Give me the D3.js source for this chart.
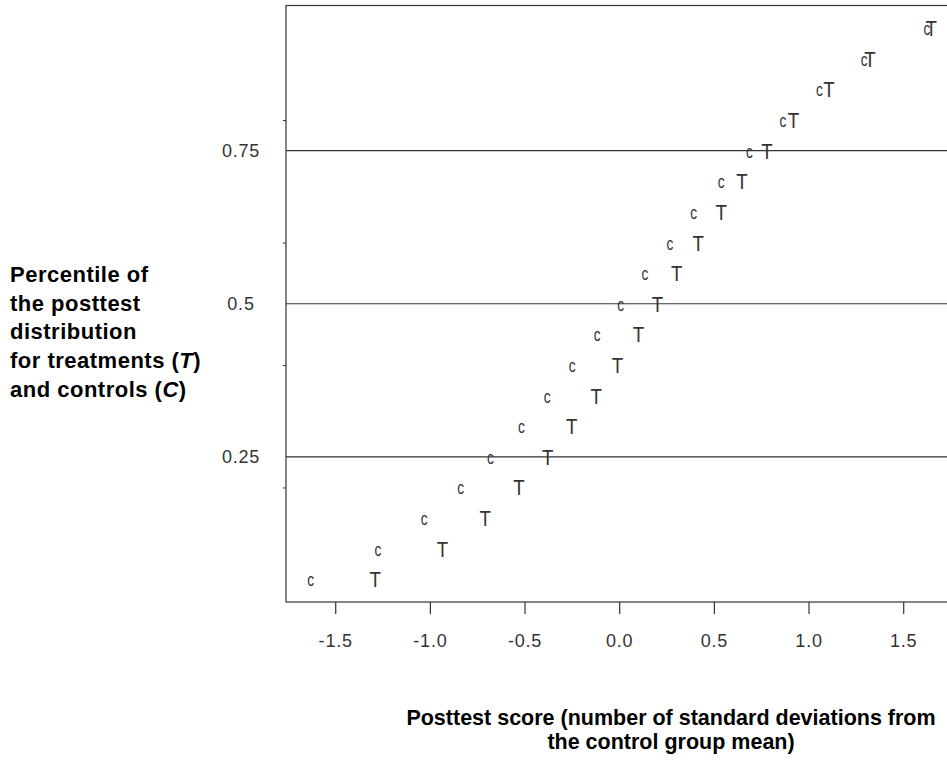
<!DOCTYPE html>
<html>
<head>
<meta charset="utf-8">
<script src="https://cdn.jsdelivr.net/npm/d3@7"></script>
<style>
  body { margin: 0; background: #fff; }
  svg { display: block; }
</style>
</head>
<body>
<div id="chart"></div>
<script>
"use strict";

// percentiles of the posttest distribution
const percentiles = [0.05, 0.10, 0.15, 0.20, 0.25, 0.30, 0.35, 0.40, 0.45, 0.50,
                     0.55, 0.60, 0.65, 0.70, 0.75, 0.80, 0.85, 0.90, 0.95];
// posttest scores (sd from control mean) at each percentile
const controlScores = [-1.63, -1.275, -1.03, -0.838, -0.68, -0.517, -0.38, -0.249, -0.117, 0.008,
                       0.136, 0.268, 0.393, 0.539, 0.688, 0.865, 1.058, 1.294, 1.625];
const treatmentScores = [-1.289, -0.933, -0.708, -0.53, -0.378, -0.251, -0.121, -0.009, 0.101, 0.202,
                         0.304, 0.417, 0.539, 0.648, 0.78, 0.921, 1.108, 1.325, 1.648];

const xTicks = [-1.5, -1.0, -0.5, 0.0, 0.5, 1.0, 1.5];
const yLabelTicks = [0.25, 0.5, 0.75];
const yMinorTicks = [0.2, 0.4, 0.6, 0.8];

const yTitle = ["Percentile of", "the posttest", "distribution",
                ["for treatments (", "T", ")"], ["and controls (", "C", ")"]];
const xTitle = ["Posttest score (number of standard deviations from", "the control group mean)"];

const W = 947, H = 761;
const frame = { left: 286, right: 960, top: 5.5, bottom: 602 };
const ink = "#333";

const svg = d3.select("#chart")
  .append("svg")
  .attr("width", W)
  .attr("height", H)
  .attr("viewBox", `0 0 ${W} ${H}`);

const x = d3.scaleLinear().domain([-1.76, 1.8]).range([frame.left, frame.right]);
const y = d3.scaleLinear().domain([0.013, 0.987]).range([frame.bottom, frame.top]);

// frame
svg.append("rect")
  .attr("x", frame.left)
  .attr("y", frame.top)
  .attr("width", frame.right - frame.left)
  .attr("height", frame.bottom - frame.top)
  .attr("fill", "none")
  .attr("stroke", ink)
  .attr("stroke-width", 1.2);

// reference lines at the quartiles
svg.selectAll(".ref")
  .data(yLabelTicks)
  .enter()
  .append("line")
  .attr("class", "ref")
  .attr("x1", frame.left)
  .attr("x2", frame.right)
  .attr("y1", d => y(d))
  .attr("y2", d => y(d))
  .attr("stroke", ink)
  .attr("stroke-width", 1.2);

// x axis
const xAxis = svg.append("g")
  .attr("transform", `translate(0, ${frame.bottom})`)
  .call(d3.axisBottom(x)
    .tickValues(xTicks)
    .tickSize(12)
    .tickPadding(20)
    .tickFormat(d => d.toFixed(1)));
xAxis.select(".domain").remove();
xAxis.selectAll("line").attr("stroke", ink).attr("stroke-width", 1.2);
xAxis.selectAll("text")
  .attr("fill", ink)
  .attr("font-family", "Liberation Sans, Arial, sans-serif")
  .attr("font-size", 18)
  .attr("letter-spacing", 0.8);

// y axis labels (centered left of the frame)
const yAxis = svg.append("g")
  .attr("transform", `translate(${frame.left}, 0)`)
  .call(d3.axisLeft(y)
    .tickValues(yLabelTicks)
    .tickSize(0)
    .tickPadding(0)
    .tickFormat(d => String(d)));
yAxis.select(".domain").remove();
yAxis.selectAll("text")
  .attr("x", -45)
  .attr("text-anchor", "middle")
  .attr("fill", ink)
  .attr("font-family", "Liberation Sans, Arial, sans-serif")
  .attr("font-size", 18)
  .attr("letter-spacing", 0.8);

// small unlabeled ticks
const yMinor = svg.append("g")
  .attr("transform", `translate(${frame.left}, 0)`)
  .call(d3.axisLeft(y).tickValues(yMinorTicks).tickSize(3).tickFormat(""));
yMinor.select(".domain").remove();
yMinor.selectAll("line").attr("stroke", ink);

// plotted letters
const points = percentiles.map((p, i) => ({ p: p, c: controlScores[i], t: treatmentScores[i] }));

const marks = svg.append("g")
  .attr("font-family", "Liberation Sans, Arial, sans-serif")
  .attr("fill", ink)
  .attr("text-anchor", "middle");

marks.selectAll(".ctrl")
  .data(points)
  .enter()
  .append("text")
  .attr("class", "ctrl")
  .attr("transform", d => `translate(${x(d.c)}, ${y(d.p) + 7}) scale(0.72, 1)`)
  .attr("font-size", 19)
  .text("c");

marks.selectAll(".treat")
  .data(points)
  .enter()
  .append("text")
  .attr("class", "treat")
  .attr("transform", d => `translate(${x(d.t)}, ${y(d.p) + 8}) scale(0.85, 1)`)
  .attr("font-size", 22)
  .text("T");

// y title
const yt = svg.append("text")
  .attr("x", 10)
  .attr("y", 282)
  .attr("font-family", "Liberation Sans, Arial, sans-serif")
  .attr("font-weight", "bold")
  .attr("font-size", 22)
  .attr("letter-spacing", 0.5)
  .attr("fill", "#000");

yTitle.forEach((line, i) => {
  const row = yt.append("tspan")
    .attr("x", 10)
    .attr("dy", i === 0 ? 0 : 28.7);
  if (typeof line === "string") {
    row.text(line);
  } else {
    row.text(line[0]);
    yt.append("tspan").attr("font-style", "italic").text(line[1]);
    yt.append("tspan").text(line[2]);
  }
});

// x title
svg.selectAll(".xtitle")
  .data(xTitle)
  .enter()
  .append("text")
  .attr("class", "xtitle")
  .attr("x", 671)
  .attr("y", (d, i) => 725 + i * 24)
  .attr("text-anchor", "middle")
  .attr("font-family", "Liberation Sans, Arial, sans-serif")
  .attr("font-weight", "bold")
  .attr("font-size", 21.5)
  .attr("fill", "#000")
  .text(d => d);
</script>
</body>
</html>
